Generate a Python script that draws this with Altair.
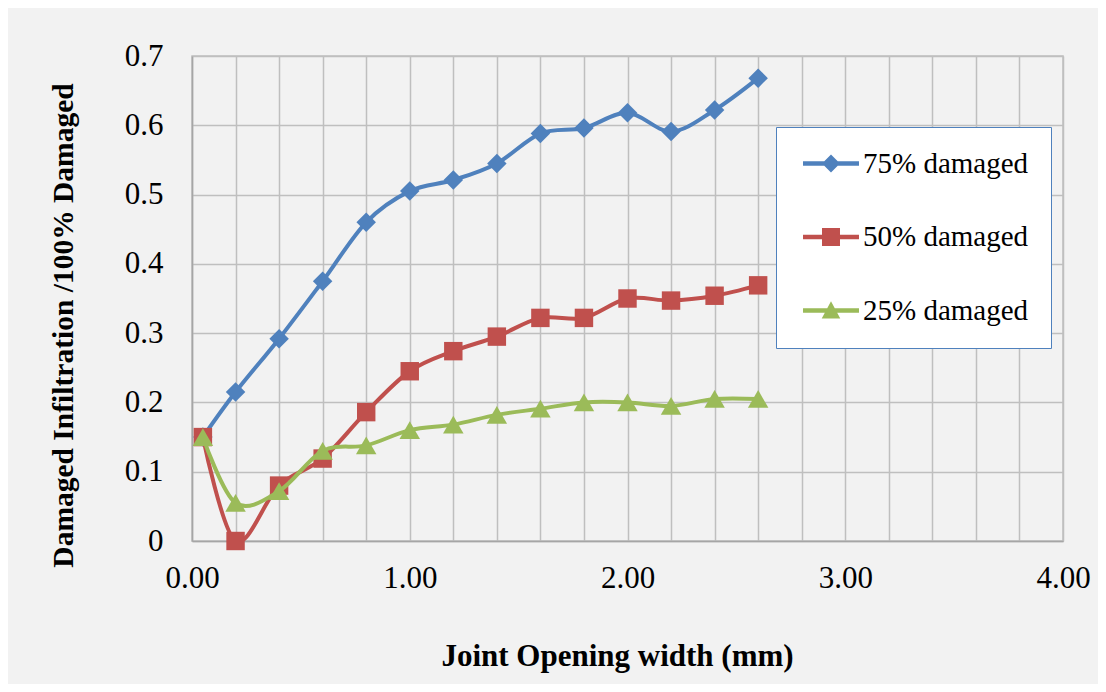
import altair as alt
import pandas as pd

# ---- data ----
x_vals = [0.05, 0.2, 0.4, 0.6, 0.8, 1.0, 1.2, 1.4, 1.6, 1.8, 2.0, 2.2, 2.4, 2.6]
series_names = ["75% damaged", "50% damaged", "25% damaged"]
s75 = [0.150, 0.215, 0.292, 0.375, 0.460, 0.505, 0.521, 0.545, 0.588, 0.596, 0.618, 0.591, 0.622, 0.668]
s50 = [0.150, 0.000, 0.080, 0.119, 0.186, 0.245, 0.274, 0.295, 0.322, 0.322, 0.350, 0.347, 0.354, 0.369]
s25 = [0.150, 0.055, 0.072, 0.130, 0.138, 0.160, 0.168, 0.182, 0.191, 0.200, 0.200, 0.195, 0.205, 0.205]
x_ticks = [0.0, 0.2, 0.4, 0.6, 0.8, 1.0, 1.2, 1.4, 1.6, 1.8, 2.0, 2.2, 2.4, 2.6, 2.8, 3.0,
           3.2, 3.4, 3.6, 3.8, 4.0]
y_ticks = [0.0, 0.1, 0.2, 0.3, 0.4, 0.5, 0.6, 0.7]

rows = []
for name, vals in zip(series_names, [s75, s50, s25]):
    for xv, yv in zip(x_vals, vals):
        rows.append({"series": name, "x": xv, "y": yv})
df = pd.DataFrame(rows)

# ---- styles ----
colors = ["#4F81BD", "#C0504D", "#9BBB59"]
shapes = ["diamond", "square", "triangle-up"]
sizes = [380, 340, 420]
line_part = "M-1.93,-0.15L1.93,-0.15L1.93,0.15L-1.93,0.15Z"
legend_paths = [
    line_part + "M0,-0.62L0.62,0L0,0.62L-0.62,0Z",
    line_part + "M-0.62,-0.62L0.62,-0.62L0.62,0.62L-0.62,0.62Z",
    line_part + "M0,-0.64L0.64,0.56L-0.64,0.56Z",
]
FONT = "Liberation Serif"

x_enc = alt.X(
    "x:Q",
    scale=alt.Scale(domain=[0, 4], nice=False),
    axis=alt.Axis(
        values=x_ticks,
        labelExpr="abs(datum.value - round(datum.value)) < 0.001 ? format(datum.value, '.2f') : ''",
        labelOverlap=False,
        labelFlush=False,
        labelFontSize=31,
        labelPadding=22,
        titleFontSize=31,
        titleFontWeight="bold",
        titleX=425,
        titleY=124,
        titleBaseline="alphabetic",
        titleAlign="center",
    ),
    title="Joint Opening width (mm)",
)
y_enc = alt.Y(
    "y:Q",
    scale=alt.Scale(domain=[0, 0.7], nice=False),
    axis=alt.Axis(
        values=y_ticks,
        format=".1~f",
        labelFontSize=31,
        labelPadding=29,
        titleFontSize=29.5,
        titleFontWeight="bold",
        titleAngle=270,
        titleX=-120,
        titleY=269,
        titleBaseline="alphabetic",
        titleAlign="center",
    ),
    title="Damaged Infiltration /100% Damaged",
)

layers = []
for name, c, sh, sz in zip(series_names, colors, shapes, sizes):
    base = alt.Chart(df).transform_filter(alt.datum.series == name)
    layers.append(
        base.mark_line(color=c, strokeWidth=4, interpolate="cardinal", clip=True,
                       strokeCap="round", strokeJoin="round").encode(x=x_enc, y=y_enc)
    )
    layers.append(
        base.mark_point(shape=sh, size=sz, filled=True, color=c, opacity=1).encode(x=x_enc, y=y_enc)
    )

leg = alt.Legend(
    title=None,
    orient="none",
    legendX=584,
    legendY=71,
    padding=22,
    strokeColor="#4F81BD",
    fillColor="white",
    symbolSize=841,
    symbolOffset=18.5,
    symbolStrokeWidth=0,
    symbolOpacity=1,
    labelOffset=17.5,
    labelLimit=400,
    rowPadding=43.5,
    labelFont=FONT,
    labelFontSize=29,
    labelColor="black",
)

legend_layer = (
    alt.Chart(df)
    .transform_filter("false")
    .mark_point(filled=True, opacity=1)
    .encode(
        color=alt.Color("series:N", scale=alt.Scale(domain=series_names, range=colors), legend=leg),
        shape=alt.Shape("series:N", scale=alt.Scale(domain=series_names, range=legend_paths), legend=leg),
    )
)

chart = (
    alt.layer(*layers, legend_layer)
    .properties(
        width=871,
        height=485,
        autosize=alt.AutoSizeParams(type="none"),
        padding={"left": 184, "top": 48, "right": 35, "bottom": 143},
        background="#f2f2f2",
    )
    .configure_view(fill="white", stroke="#bfbfbf", strokeWidth=1.5)
    .configure_axis(
        labelFont=FONT,
        titleFont=FONT,
        labelColor="black",
        titleColor="black",
        gridColor="#bfbfbf",
        gridWidth=1.5,
        domainColor="#a6a6a6",
        domainWidth=1.5,
        ticks=False,
    )
    .configure_legend(symbolStrokeWidth=0, symbolOpacity=1, labelLimit=400)
)

chart.save("out.html", embed_options={"renderer": "svg", "actions": False})
